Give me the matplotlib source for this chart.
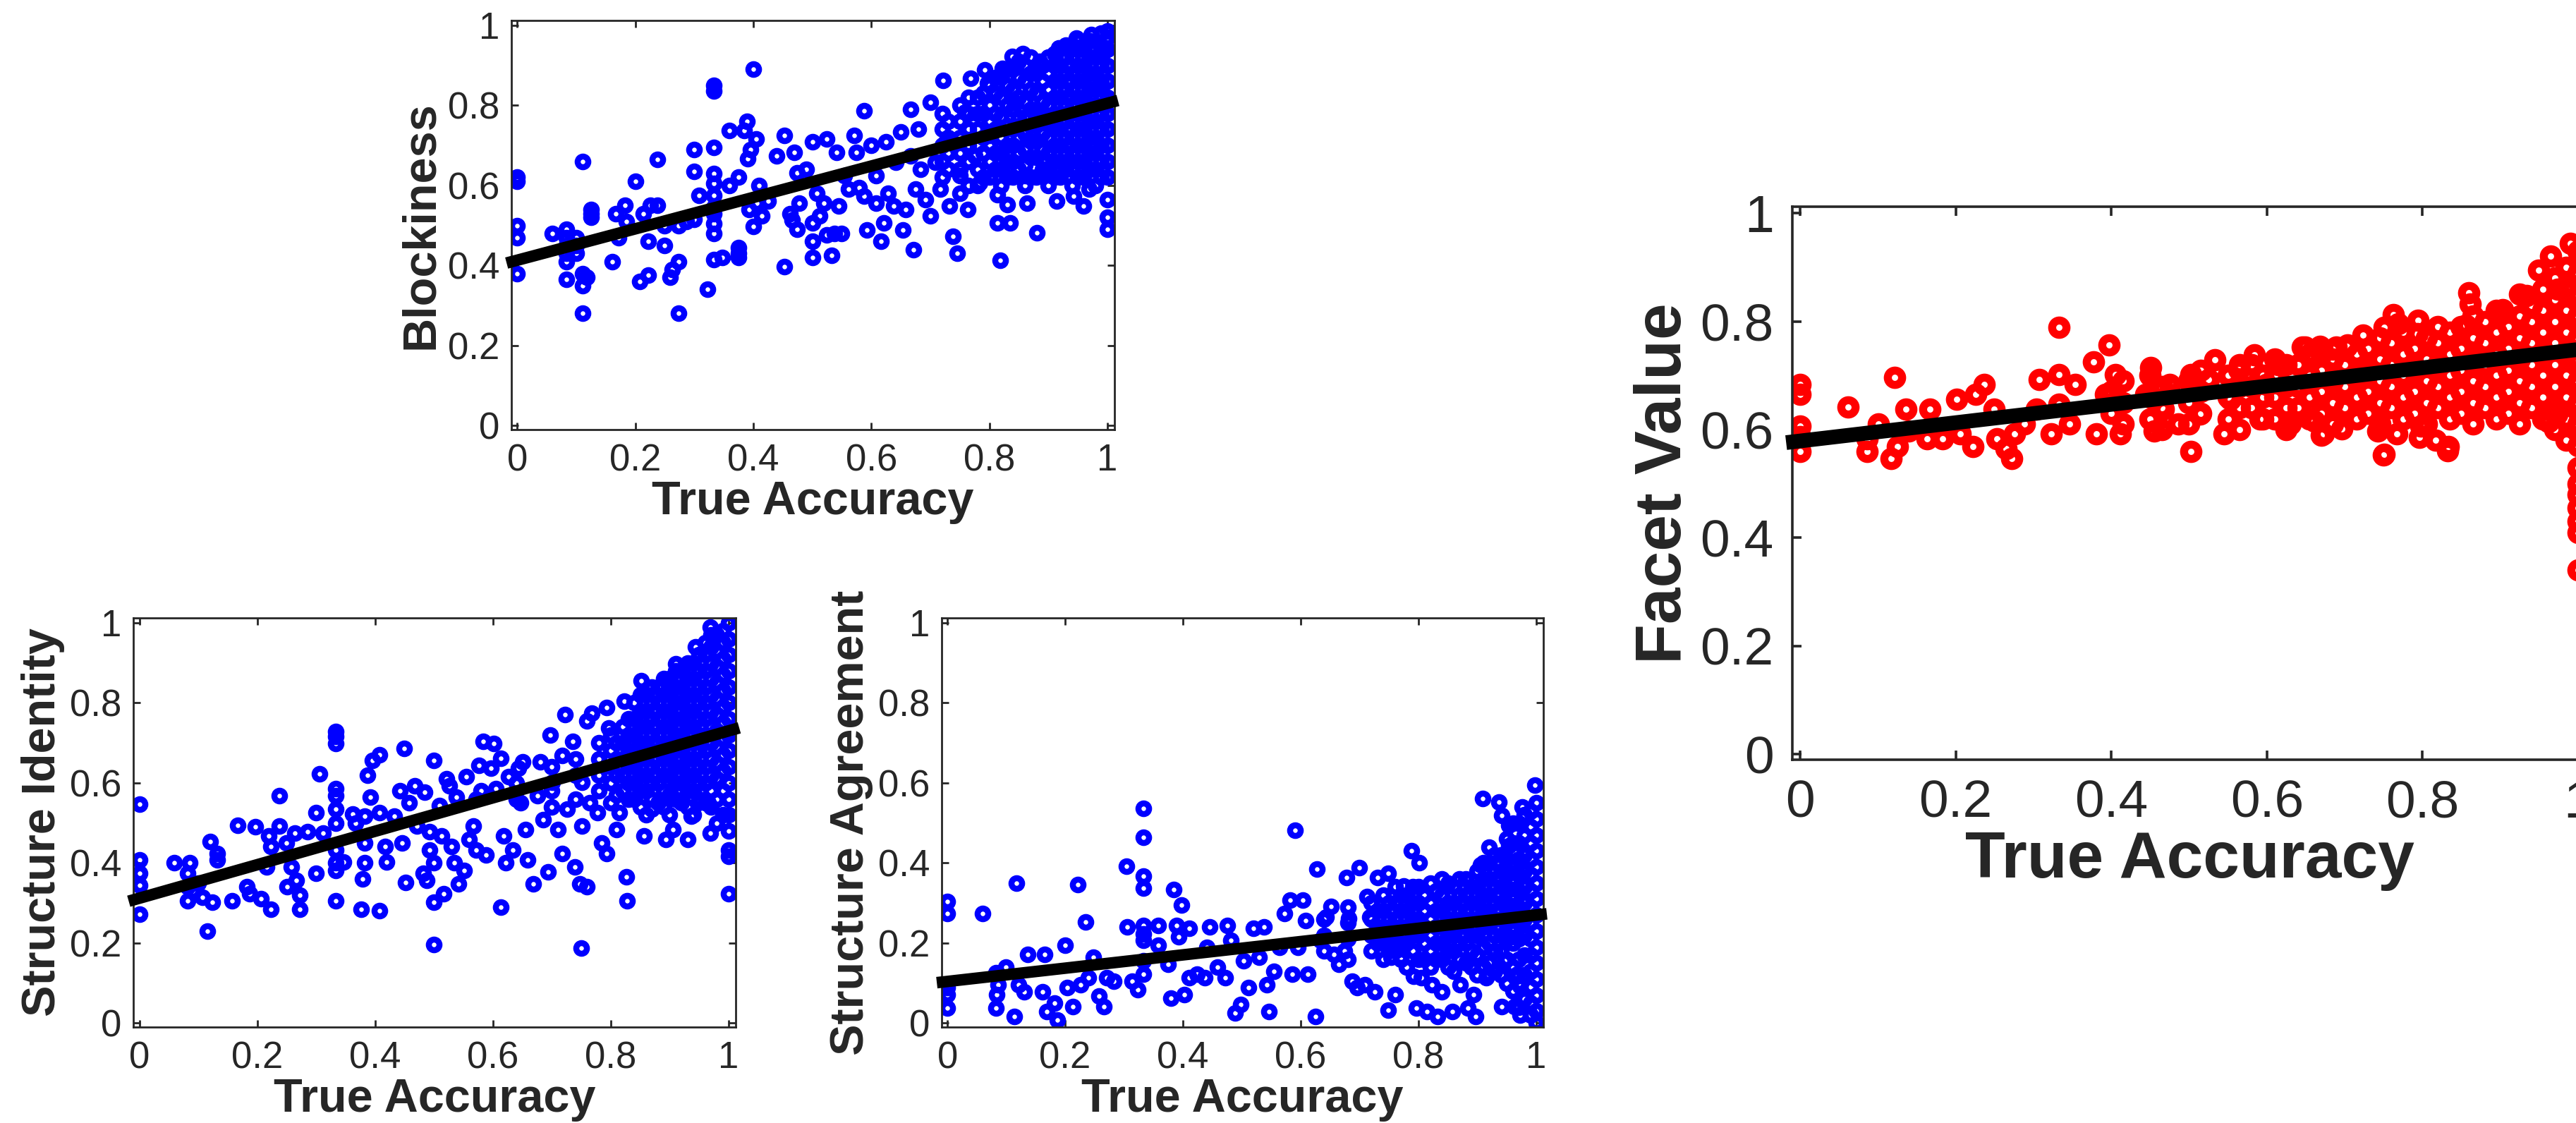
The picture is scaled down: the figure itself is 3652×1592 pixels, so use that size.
import matplotlib
matplotlib.use("Agg")
import matplotlib.pyplot as plt

plt.rcParams['font.family'] = ['Liberation Sans', 'DejaVu Sans']

TXT = '#262626'
acc_ticks = [0, 0.2, 0.4, 0.6, 0.8, 1]
acc_labels = ['0', '0.2', '0.4', '0.6', '0.8', '1']

# ---- Blockiness vs true accuracy ----
blk_pts = [
    (0, 0.62), (0, 0.61), (0, 0.50), (0, 0.47), (0, 0.38),
    (0.06, 0.48), (0.083, 0.49), (0.083, 0.47), (0.083, 0.45), (0.083, 0.43), (0.083, 0.41), (0.083, 0.365),
    (0.1, 0.47), (0.1, 0.45), (0.1, 0.43),
    (0.111, 0.66), (0.111, 0.38), (0.111, 0.35), (0.111, 0.28), (0.118, 0.37),
    (0.125, 0.54), (0.125, 0.53), (0.125, 0.52),
    (0.161, 0.41), (0.167, 0.53), (0.172, 0.47), (0.182, 0.55), (0.185, 0.51),
    (0.2, 0.61), (0.208, 0.36), (0.214, 0.53), (0.222, 0.375), (0.222, 0.46), (0.226, 0.55), (0.238, 0.55), (0.238, 0.665),
    (0.25, 0.45), (0.25, 0.50), (0.259, 0.37), (0.263, 0.39), (0.273, 0.41), (0.273, 0.28), (0.273, 0.50),
    (0.286, 0.51), (0.3, 0.515), (0.3, 0.635), (0.3, 0.69), (0.308, 0.575), (0.323, 0.34),
    (0.333, 0.85), (0.333, 0.835), (0.333, 0.695), (0.333, 0.63), (0.333, 0.605), (0.333, 0.575),
    (0.333, 0.545), (0.333, 0.53), (0.333, 0.505), (0.333, 0.48), (0.333, 0.415),
    (0.348, 0.42), (0.36, 0.737), (0.36, 0.60), (0.375, 0.62), (0.375, 0.445), (0.375, 0.43), (0.375, 0.42),
    (0.385, 0.737), (0.389, 0.76), (0.39, 0.667), (0.393, 0.54), (0.395, 0.69), (0.4, 0.89), (0.4, 0.497),
    (0.405, 0.716), (0.406, 0.556), (0.41, 0.60), (0.415, 0.523), (0.425, 0.56),
    (0.44, 0.674), (0.453, 0.724), (0.453, 0.397), (0.462, 0.53), (0.466, 0.514), (0.47, 0.682),
    (0.474, 0.632), (0.474, 0.49), (0.478, 0.556), (0.49, 0.64),
    (0.5, 0.506), (0.5, 0.46), (0.5, 0.42), (0.5, 0.708), (0.508, 0.58), (0.512, 0.523), (0.52, 0.556),
    (0.524, 0.716), (0.524, 0.476), (0.533, 0.426), (0.537, 0.48), (0.541, 0.682), (0.545, 0.548),
    (0.55, 0.48), (0.554, 0.624), (0.562, 0.59), (0.571, 0.724), (0.575, 0.682), (0.579, 0.594),
    (0.588, 0.787), (0.588, 0.573), (0.592, 0.489),
    (0.6, 0.70), (0.608, 0.624), (0.608, 0.556), (0.617, 0.46), (0.621, 0.506), (0.625, 0.708),
    (0.629, 0.58), (0.638, 0.548), (0.642, 0.657), (0.65, 0.733), (0.654, 0.489), (0.658, 0.54),
    (0.667, 0.79), (0.667, 0.674), (0.671, 0.439), (0.675, 0.59), (0.68, 0.741), (0.684, 0.64), (0.692, 0.565),
    (0.7, 0.808), (0.7, 0.523), (0.708, 0.657), (0.717, 0.59), (0.722, 0.863), (0.727, 0.708),
    (0.733, 0.548), (0.738, 0.472), (0.746, 0.43), (0.75, 0.624), (0.759, 0.783), (0.763, 0.54),
    (0.768, 0.867), (0.776, 0.674), (0.784, 0.607), (0.792, 0.888), (0.797, 0.855),
    (0.8, 0.724), (0.814, 0.577), (0.814, 0.506), (0.818, 0.413), (0.822, 0.892), (0.831, 0.552),
    (0.835, 0.506), (0.839, 0.922), (0.843, 0.808), (0.857, 0.93), (0.86, 0.624), (0.864, 0.556),
    (0.873, 0.724), (0.881, 0.481), (0.885, 0.909), (0.893, 0.666),
    (0.906, 0.624), (0.91, 0.758), (0.914, 0.56), (0.918, 0.943), (0.93, 0.657), (0.935, 0.699),
    (0.943, 0.573), (0.948, 0.968), (0.96, 0.548), (0.965, 0.8), (0.969, 0.59), (0.973, 0.976),
    (0.977, 0.699), (0.986, 0.85), (0.994, 0.934),
    (1, 0.985), (1, 0.565), (1, 0.52), (1, 0.49),
]
# dense cloud near high accuracy, listed column by column
blk_cols = [
    (0.72, [0.62, 0.66, 0.70, 0.74, 0.78]),
    (0.73, [0.64, 0.68, 0.72, 0.76]),
    (0.75, [0.58, 0.64, 0.68, 0.72, 0.76, 0.80]),
    (0.765, [0.60, 0.66, 0.70, 0.74, 0.78, 0.82]),
    (0.78, [0.60, 0.64, 0.70, 0.74, 0.78, 0.82]),
    (0.79, [0.62, 0.68, 0.72, 0.78, 0.83]),
    (0.80, [0.62, 0.66, 0.70, 0.76, 0.80, 0.85]),
    (0.81, [0.64, 0.68, 0.74, 0.78, 0.83, 0.87]),
    (0.82, [0.60, 0.64, 0.68, 0.72, 0.77, 0.82, 0.87]),
    (0.83, [0.62, 0.66, 0.70, 0.75, 0.80, 0.85, 0.89]),
    (0.84, [0.62, 0.66, 0.70, 0.74, 0.79, 0.84, 0.89]),
    (0.85, [0.64, 0.68, 0.72, 0.77, 0.82, 0.87, 0.91]),
    (0.86, [0.60, 0.65, 0.69, 0.73, 0.77, 0.81, 0.86, 0.90]),
    (0.87, [0.62, 0.67, 0.71, 0.75, 0.79, 0.84, 0.88, 0.92]),
    (0.88, [0.62, 0.67, 0.71, 0.75, 0.79, 0.83, 0.88]),
    (0.89, [0.64, 0.69, 0.73, 0.77, 0.81, 0.86, 0.90]),
    (0.90, [0.60, 0.64, 0.68, 0.72, 0.76, 0.80, 0.84, 0.88, 0.92]),
    (0.91, [0.62, 0.66, 0.70, 0.74, 0.78, 0.82, 0.86, 0.90, 0.93]),
    (0.92, [0.62, 0.66, 0.70, 0.74, 0.78, 0.82, 0.86, 0.90]),
    (0.93, [0.64, 0.68, 0.72, 0.76, 0.80, 0.84, 0.88, 0.92, 0.95]),
    (0.94, [0.60, 0.64, 0.68, 0.72, 0.76, 0.80, 0.84, 0.88, 0.92, 0.95]),
    (0.95, [0.62, 0.66, 0.70, 0.74, 0.78, 0.82, 0.86, 0.90, 0.94, 0.96]),
    (0.96, [0.62, 0.66, 0.70, 0.74, 0.78, 0.82, 0.86, 0.90, 0.94]),
    (0.97, [0.64, 0.68, 0.72, 0.76, 0.80, 0.84, 0.88, 0.92, 0.96]),
    (0.98, [0.60, 0.64, 0.68, 0.72, 0.76, 0.80, 0.84, 0.88, 0.92, 0.96]),
    (0.99, [0.62, 0.66, 0.70, 0.74, 0.78, 0.82, 0.86, 0.90, 0.94, 0.98]),
    (1.0, [0.62, 0.66, 0.70, 0.74, 0.78, 0.82, 0.86, 0.90, 0.94, 0.97]),
]
blk_fit = (0.413, 0.392)  # intercept, slope

# ---- Structure Identity ----
si_pts = [
    (0, 0.547), (0, 0.407), (0, 0.374), (0, 0.344), (0, 0.272),
    (0.059, 0.40), (0.082, 0.374), (0.082, 0.34), (0.082, 0.306), (0.086, 0.40), (0.09, 0.33), (0.1, 0.35),
    (0.107, 0.314), (0.115, 0.23), (0.12, 0.454), (0.124, 0.302), (0.132, 0.424), (0.132, 0.407),
    (0.157, 0.306), (0.167, 0.494), (0.182, 0.34), (0.187, 0.323), (0.197, 0.49), (0.207, 0.31),
    (0.216, 0.39), (0.22, 0.467), (0.223, 0.441), (0.223, 0.285), (0.237, 0.568), (0.237, 0.492),
    (0.249, 0.45), (0.251, 0.34), (0.258, 0.39), (0.264, 0.475), (0.266, 0.357), (0.272, 0.319),
    (0.272, 0.285), (0.285, 0.479),
    (0.3, 0.374), (0.3, 0.526), (0.306, 0.623), (0.312, 0.475),
    (0.333, 0.729), (0.333, 0.716), (0.333, 0.699), (0.333, 0.585), (0.333, 0.568), (0.333, 0.534),
    (0.333, 0.50), (0.333, 0.433), (0.333, 0.40), (0.333, 0.382), (0.333, 0.306),
    (0.346, 0.403), (0.362, 0.522), (0.367, 0.50), (0.377, 0.285), (0.379, 0.361), (0.382, 0.517),
    (0.382, 0.45), (0.382, 0.40), (0.387, 0.619), (0.392, 0.564), (0.396, 0.657),
    (0.408, 0.67), (0.408, 0.526), (0.408, 0.281), (0.417, 0.441), (0.419, 0.403), (0.433, 0.517),
    (0.442, 0.581), (0.446, 0.45), (0.45, 0.686), (0.452, 0.352), (0.458, 0.551), (0.467, 0.593),
    (0.471, 0.492), (0.482, 0.374), (0.484, 0.576), (0.488, 0.357), (0.492, 0.479), (0.492, 0.433),
    (0.5, 0.657), (0.5, 0.302), (0.5, 0.196), (0.5, 0.40), (0.509, 0.543), (0.513, 0.467),
    (0.517, 0.323), (0.521, 0.61), (0.526, 0.593), (0.53, 0.441), (0.534, 0.40), (0.538, 0.564),
    (0.542, 0.348), (0.551, 0.382), (0.555, 0.615), (0.559, 0.458), (0.567, 0.492), (0.572, 0.56),
    (0.572, 0.433), (0.576, 0.644), (0.58, 0.581), (0.584, 0.703), (0.588, 0.42), (0.597, 0.636),
    (0.601, 0.699), (0.605, 0.585), (0.613, 0.661), (0.613, 0.289), (0.618, 0.467), (0.622, 0.40),
    (0.626, 0.615), (0.634, 0.433), (0.643, 0.636), (0.647, 0.551), (0.651, 0.653), (0.655, 0.483),
    (0.659, 0.407), (0.668, 0.348), (0.676, 0.568), (0.68, 0.653), (0.685, 0.509), (0.693, 0.378),
    (0.697, 0.72),
    (0.701, 0.602), (0.71, 0.483), (0.718, 0.669), (0.718, 0.424), (0.722, 0.771), (0.726, 0.534),
    (0.735, 0.703), (0.739, 0.39), (0.747, 0.348), (0.75, 0.188), (0.751, 0.602), (0.751, 0.492),
    (0.76, 0.754), (0.76, 0.34), (0.764, 0.551), (0.768, 0.775), (0.777, 0.526), (0.785, 0.45),
    (0.793, 0.788), (0.793, 0.424), (0.797, 0.737),
    (0.81, 0.483), (0.814, 0.526), (0.823, 0.805), (0.827, 0.365), (0.828, 0.306), (0.835, 0.695),
    (0.852, 0.855), (0.856, 0.467), (0.869, 0.534), (0.894, 0.458), (0.902, 0.839), (0.906, 0.483),
    (0.91, 0.898), (0.915, 0.619), (0.931, 0.458), (0.936, 0.517), (0.944, 0.94), (0.948, 0.551),
    (0.965, 0.551), (0.969, 0.99), (0.969, 0.475),
    (1, 0.433), (1, 0.416), (1, 0.323),
]
si_cols = [
    (0.64, [0.56, 0.60]),
    (0.70, [0.54, 0.58, 0.64]),
    (0.74, [0.56, 0.62, 0.66]),
    (0.78, [0.58, 0.62, 0.66, 0.70]),
    (0.80, [0.55, 0.60, 0.64, 0.68, 0.72]),
    (0.81, [0.57, 0.62, 0.66, 0.70]),
    (0.82, [0.58, 0.62, 0.66, 0.70, 0.74]),
    (0.83, [0.56, 0.60, 0.64, 0.68, 0.72, 0.76]),
    (0.84, [0.56, 0.60, 0.64, 0.68, 0.72, 0.76, 0.80]),
    (0.85, [0.54, 0.58, 0.62, 0.66, 0.70, 0.74, 0.78, 0.82]),
    (0.86, [0.52, 0.58, 0.62, 0.66, 0.70, 0.74, 0.78, 0.82]),
    (0.87, [0.56, 0.60, 0.64, 0.68, 0.72, 0.76, 0.80, 0.84]),
    (0.88, [0.55, 0.60, 0.64, 0.68, 0.72, 0.76, 0.80, 0.84]),
    (0.89, [0.54, 0.58, 0.62, 0.66, 0.70, 0.74, 0.78, 0.82, 0.86]),
    (0.90, [0.52, 0.57, 0.62, 0.66, 0.70, 0.74, 0.78, 0.82, 0.86]),
    (0.91, [0.56, 0.60, 0.64, 0.68, 0.72, 0.76, 0.80, 0.84, 0.88]),
    (0.92, [0.55, 0.60, 0.64, 0.68, 0.72, 0.76, 0.80, 0.84, 0.88]),
    (0.93, [0.54, 0.58, 0.62, 0.66, 0.70, 0.74, 0.78, 0.82, 0.86, 0.90]),
    (0.94, [0.52, 0.58, 0.62, 0.66, 0.70, 0.74, 0.78, 0.82, 0.86, 0.90]),
    (0.95, [0.56, 0.60, 0.64, 0.68, 0.72, 0.76, 0.80, 0.84, 0.88, 0.92]),
    (0.96, [0.55, 0.60, 0.64, 0.68, 0.72, 0.76, 0.80, 0.84, 0.88, 0.92, 0.95]),
    (0.97, [0.54, 0.58, 0.62, 0.66, 0.70, 0.74, 0.78, 0.82, 0.86, 0.90, 0.94, 0.97]),
    (0.98, [0.50, 0.56, 0.61, 0.65, 0.69, 0.73, 0.77, 0.81, 0.85, 0.89, 0.93, 0.97]),
    (0.99, [0.52, 0.58, 0.63, 0.67, 0.71, 0.75, 0.79, 0.83, 0.87, 0.91, 0.95, 0.98]),
    (1.0, [0.48, 0.52, 0.56, 0.60, 0.64, 0.68, 0.72, 0.76, 0.80, 0.84, 0.88, 0.92, 0.96, 1.0]),
]
si_fit = (0.312, 0.418)

# ---- Structure Agreement ----
sa_pts = [
    (0, 0.303), (0, 0.274), (0, 0.088), (0, 0.071), (0, 0.037),
    (0.06, 0.274), (0.082, 0.126), (0.084, 0.071), (0.082, 0.037), (0.086, 0.096), (0.099, 0.139),
    (0.114, 0.016), (0.117, 0.35), (0.121, 0.096), (0.13, 0.079), (0.136, 0.172),
    (0.161, 0.079), (0.165, 0.172), (0.169, 0.029), (0.187, 0.008), (0.182, 0.05), (0.2, 0.194),
    (0.204, 0.088), (0.213, 0.041), (0.222, 0.346), (0.226, 0.096), (0.235, 0.253), (0.239, 0.113),
    (0.248, 0.164), (0.257, 0.067), (0.266, 0.041), (0.27, 0.113), (0.283, 0.105),
    (0.304, 0.392), (0.305, 0.24), (0.314, 0.105), (0.323, 0.084),
    (0.333, 0.536), (0.333, 0.464), (0.333, 0.367), (0.333, 0.337), (0.333, 0.244), (0.333, 0.223),
    (0.333, 0.206), (0.333, 0.156), (0.333, 0.122),
    (0.358, 0.244), (0.358, 0.194), (0.375, 0.147), (0.38, 0.063), (0.384, 0.333), (0.389, 0.244),
    (0.393, 0.215), (0.397, 0.295),
    (0.402, 0.071), (0.411, 0.236), (0.411, 0.113), (0.424, 0.122), (0.437, 0.113), (0.441, 0.189),
    (0.446, 0.24), (0.459, 0.139), (0.472, 0.113), (0.476, 0.244), (0.481, 0.206), (0.489, 0.025),
    (0.498, 0.046),
    (0.503, 0.156), (0.511, 0.088), (0.52, 0.236), (0.529, 0.164), (0.538, 0.24), (0.542, 0.096),
    (0.546, 0.029), (0.555, 0.13), (0.564, 0.189), (0.573, 0.274), (0.582, 0.308), (0.586, 0.122),
    (0.59, 0.481), (0.595, 0.189),
    (0.604, 0.308), (0.608, 0.257), (0.612, 0.122), (0.625, 0.016), (0.628, 0.384), (0.634, 0.206),
    (0.643, 0.265), (0.652, 0.291), (0.656, 0.172), (0.665, 0.147), (0.674, 0.181), (0.678, 0.363),
    (0.682, 0.261), (0.687, 0.105), (0.696, 0.088),
    (0.7, 0.388), (0.709, 0.096), (0.713, 0.316), (0.718, 0.265), (0.726, 0.079), (0.731, 0.363),
    (0.744, 0.206), (0.748, 0.375), (0.748, 0.033), (0.753, 0.164), (0.761, 0.071), (0.77, 0.164),
    (0.775, 0.342), (0.788, 0.43), (0.792, 0.117), (0.796, 0.037),
    (0.801, 0.401), (0.805, 0.113), (0.814, 0.029), (0.823, 0.096), (0.832, 0.016), (0.84, 0.079),
    (0.858, 0.029), (0.871, 0.096), (0.884, 0.037), (0.893, 0.071), (0.897, 0.016), (0.906, 0.396),
    (0.909, 0.561), (0.915, 0.113), (0.919, 0.122), (0.937, 0.553), (0.941, 0.519), (0.941, 0.041),
    (0.946, 0.156), (0.954, 0.443), (0.954, 0.494), (0.963, 0.041), (0.968, 0.122), (0.972, 0.02),
    (0.972, 0.092), (0.976, 0.54), (0.998, 0.595),
]
sa_cols = [
    (0.64, [0.18, 0.22, 0.26]),
    (0.68, [0.16, 0.21, 0.25, 0.29]),
    (0.72, [0.18, 0.22, 0.26, 0.30]),
    (0.73, [0.20, 0.24, 0.28]),
    (0.74, [0.16, 0.20, 0.24, 0.28, 0.32]),
    (0.75, [0.18, 0.22, 0.26, 0.30]),
    (0.76, [0.18, 0.22, 0.26, 0.30, 0.34]),
    (0.77, [0.16, 0.20, 0.24, 0.28, 0.32]),
    (0.78, [0.14, 0.20, 0.24, 0.28, 0.32]),
    (0.79, [0.18, 0.22, 0.26, 0.30, 0.34]),
    (0.80, [0.16, 0.22, 0.26, 0.30, 0.34]),
    (0.81, [0.16, 0.20, 0.24, 0.28, 0.32]),
    (0.82, [0.14, 0.18, 0.22, 0.26, 0.30, 0.35]),
    (0.83, [0.16, 0.20, 0.24, 0.28, 0.33]),
    (0.84, [0.16, 0.20, 0.24, 0.28, 0.32, 0.36]),
    (0.85, [0.14, 0.18, 0.22, 0.26, 0.30, 0.35]),
    (0.86, [0.13, 0.18, 0.22, 0.26, 0.30, 0.34]),
    (0.87, [0.16, 0.20, 0.24, 0.28, 0.32, 0.36]),
    (0.88, [0.15, 0.20, 0.24, 0.28, 0.32, 0.36]),
    (0.89, [0.14, 0.18, 0.22, 0.26, 0.30, 0.34]),
    (0.90, [0.12, 0.17, 0.22, 0.26, 0.30, 0.34, 0.38]),
    (0.91, [0.14, 0.19, 0.24, 0.28, 0.32, 0.36, 0.40]),
    (0.92, [0.15, 0.20, 0.24, 0.28, 0.32, 0.36, 0.40, 0.44]),
    (0.93, [0.13, 0.18, 0.22, 0.26, 0.30, 0.34, 0.38, 0.42]),
    (0.94, [0.12, 0.18, 0.22, 0.26, 0.30, 0.34, 0.38, 0.42]),
    (0.95, [0.10, 0.16, 0.21, 0.25, 0.29, 0.33, 0.37, 0.41, 0.46]),
    (0.96, [0.08, 0.14, 0.20, 0.24, 0.28, 0.32, 0.36, 0.40, 0.45, 0.50]),
    (0.97, [0.04, 0.10, 0.16, 0.21, 0.25, 0.29, 0.33, 0.37, 0.41, 0.45, 0.50]),
    (0.98, [0.06, 0.12, 0.17, 0.22, 0.26, 0.30, 0.34, 0.38, 0.42, 0.47, 0.52]),
    (0.99, [0.02, 0.05, 0.09, 0.13, 0.17, 0.21, 0.25, 0.29, 0.33, 0.37, 0.41, 0.45, 0.49, 0.53]),
    (1.0, [0.0, 0.03, 0.07, 0.11, 0.15, 0.19, 0.23, 0.27, 0.31, 0.35, 0.39, 0.43, 0.47, 0.51, 0.55]),
]
sa_fit = (0.104, 0.166)

# ---- Facet Value ----
fv_pts = [
    (0, 0.683), (0, 0.665), (0, 0.606), (0, 0.587), (0, 0.56),
    (0.062, 0.642), (0.086, 0.56), (0.086, 0.583), (0.101, 0.61), (0.117, 0.546), (0.121, 0.697),
    (0.125, 0.569), (0.136, 0.638), (0.14, 0.597), (0.163, 0.583), (0.167, 0.638), (0.183, 0.583),
    (0.201, 0.656), (0.206, 0.592), (0.222, 0.569), (0.226, 0.665), (0.237, 0.683), (0.249, 0.638),
    (0.253, 0.583), (0.265, 0.565), (0.272, 0.546), (0.276, 0.592), (0.288, 0.61),
    (0.304, 0.638), (0.307, 0.693), (0.323, 0.592), (0.333, 0.789), (0.333, 0.702), (0.333, 0.647),
    (0.346, 0.61), (0.354, 0.683), (0.377, 0.725), (0.381, 0.592), (0.393, 0.665), (0.397, 0.757),
    (0.405, 0.702), (0.412, 0.592), (0.444, 0.665), (0.451, 0.715), (0.455, 0.597), (0.467, 0.638),
    (0.475, 0.683), (0.486, 0.61),
    (0.502, 0.702), (0.502, 0.56), (0.514, 0.629), (0.525, 0.693), (0.533, 0.729), (0.545, 0.592),
    (0.553, 0.656), (0.564, 0.711), (0.584, 0.738), (0.591, 0.619), (0.599, 0.683),
    (0.615, 0.72), (0.63, 0.61), (0.646, 0.752), (0.649, 0.752), (0.661, 0.615), (0.668, 0.754),
    (0.669, 0.747), (0.67, 0.59), (0.673, 0.592), (0.685, 0.748), (0.689, 0.752), (0.696, 0.601),
    (0.703, 0.754), (0.704, 0.757), (0.724, 0.775), (0.743, 0.597), (0.75, 0.553), (0.751, 0.789),
    (0.751, 0.555), (0.763, 0.812), (0.767, 0.592), (0.769, 0.795), (0.793, 0.777), (0.794, 0.802),
    (0.796, 0.586), (0.798, 0.606), (0.817, 0.58),
    (0.832, 0.561), (0.833, 0.569), (0.856, 0.793), (0.86, 0.853), (0.861, 0.832), (0.903, 0.821),
    (0.934, 0.848), (0.949, 0.894), (0.962, 0.614), (0.965, 0.921), (0.973, 0.629), (0.974, 0.86),
    (0.99, 0.944),
    (1, 0.50), (1, 0.48), (1, 0.455), (1, 0.43), (1, 0.41), (1, 0.34),
]
fv_cols = [
    (0.40, [0.63, 0.67]),
    (0.415, [0.61, 0.65, 0.69]),
    (0.45, [0.62, 0.66, 0.70]),
    (0.465, [0.60, 0.64, 0.68]),
    (0.50, [0.61, 0.65, 0.69]),
    (0.515, [0.63, 0.67, 0.71]),
    (0.55, [0.62, 0.66, 0.70]),
    (0.565, [0.60, 0.64, 0.68, 0.72]),
    (0.58, [0.64, 0.68, 0.72]),
    (0.595, [0.62, 0.66, 0.70]),
    (0.61, [0.62, 0.66, 0.70, 0.73]),
    (0.625, [0.60, 0.64, 0.68, 0.72]),
    (0.64, [0.64, 0.68, 0.72]),
    (0.655, [0.62, 0.66, 0.70, 0.74]),
    (0.67, [0.63, 0.67, 0.71, 0.74]),
    (0.685, [0.61, 0.65, 0.69, 0.73]),
    (0.70, [0.64, 0.68, 0.72]),
    (0.715, [0.62, 0.66, 0.70, 0.74]),
    (0.73, [0.63, 0.67, 0.71, 0.75]),
    (0.745, [0.61, 0.65, 0.69, 0.73, 0.77]),
    (0.76, [0.64, 0.68, 0.72, 0.76]),
    (0.775, [0.62, 0.66, 0.70, 0.74, 0.78]),
    (0.79, [0.63, 0.67, 0.71, 0.75]),
    (0.805, [0.61, 0.65, 0.69, 0.73, 0.77]),
    (0.82, [0.64, 0.68, 0.72, 0.76, 0.79]),
    (0.835, [0.62, 0.66, 0.70, 0.74, 0.78]),
    (0.85, [0.63, 0.67, 0.71, 0.75, 0.79]),
    (0.865, [0.61, 0.65, 0.69, 0.73, 0.77, 0.81]),
    (0.88, [0.64, 0.68, 0.72, 0.76, 0.80]),
    (0.895, [0.62, 0.66, 0.70, 0.74, 0.78, 0.82]),
    (0.91, [0.63, 0.67, 0.71, 0.75, 0.79]),
    (0.925, [0.61, 0.65, 0.69, 0.73, 0.77, 0.81, 0.85]),
    (0.94, [0.64, 0.68, 0.72, 0.76, 0.80, 0.83]),
    (0.955, [0.62, 0.66, 0.70, 0.74, 0.78, 0.82, 0.86]),
    (0.97, [0.60, 0.64, 0.68, 0.72, 0.76, 0.80, 0.84, 0.88]),
    (0.985, [0.58, 0.62, 0.66, 0.70, 0.74, 0.78, 0.82, 0.86, 0.90]),
    (1.0, [0.53, 0.57, 0.61, 0.65, 0.69, 0.73, 0.77, 0.81, 0.85, 0.89, 0.93]),
]
fv_fit = (0.579, 0.169)


def gather(pts, cols):
    xs = [p[0] for p in pts]
    ys = [p[1] for p in pts]
    for cx, cy in cols:
        xs += [cx] * len(cy)
        ys += cy
    return xs, ys


def scatter_panel(fig, rect, pts, cols, fit, ylabel, color, big=False):
    if big:
        ms, mew, lw = 14.6, 8.2, 15.0
        tick_fs, lab_fs, tlen, spw = 54, 67, 9.5, 2.6
        xpad, ypad, xlp, ylp = 20, 19, 2, 6
    else:
        ms, mew, lw = 10.9, 6.1, 11.8
        tick_fs, lab_fs, tlen, spw = 38, 48, 7.2, 2.0
        xpad, ypad, xlp, ylp = 14, 12, 2, 5

    ax = fig.add_axes(rect)
    xs, ys = gather(pts, cols)
    ax.plot(xs, ys, 'o', mfc='none', mec=color, ms=ms, mew=mew, linestyle='none', zorder=2)

    # least squares line
    b0, b1 = fit
    lx = [-0.018, 1.018]
    ax.plot(lx, [b0 + b1 * v for v in lx], '-', color='k', lw=lw,
            solid_capstyle='butt', clip_on=False, zorder=3)

    ax.set_xlim(-0.01, 1.012)
    ax.set_ylim(-0.01, 1.012)
    ax.set_xticks(acc_ticks)
    ax.set_xticklabels(acc_labels)
    ax.set_yticks(acc_ticks)
    ax.set_yticklabels(acc_labels)
    ax.tick_params(axis='both', direction='in', top=True, right=True,
                   length=tlen, width=spw, colors=TXT, labelsize=tick_fs)
    ax.tick_params(axis='x', pad=xpad)
    ax.tick_params(axis='y', pad=ypad)
    for s in ax.spines.values():
        s.set_color(TXT)
        s.set_linewidth(spw)

    ax.set_xlabel('True Accuracy', fontsize=lab_fs, fontweight='bold', color=TXT, labelpad=xlp)
    ax.set_ylabel(ylabel, fontsize=lab_fs, fontweight='bold', color=TXT, labelpad=ylp)
    return ax


fig = plt.figure(figsize=(36.52, 15.92), dpi=100)
fig.patch.set_facecolor('white')

scatter_panel(fig, [0.1985, 0.6175, 0.2341, 0.3643], blk_pts, blk_cols, blk_fit, 'Blockiness', 'b')
scatter_panel(fig, [0.0518, 0.0854, 0.2338, 0.3643], si_pts, si_cols, si_fit, 'Structure Identity', 'b')
scatter_panel(fig, [0.3655, 0.0854, 0.2336, 0.3643], sa_pts, sa_cols, sa_fit, 'Structure Agreement', 'b')
scatter_panel(fig, [0.6958, 0.3235, 0.3086, 0.4925], fv_pts, fv_cols, fv_fit, 'Facet Value', 'r', big=True)

fig.savefig('out.png', dpi=100, facecolor='white')
